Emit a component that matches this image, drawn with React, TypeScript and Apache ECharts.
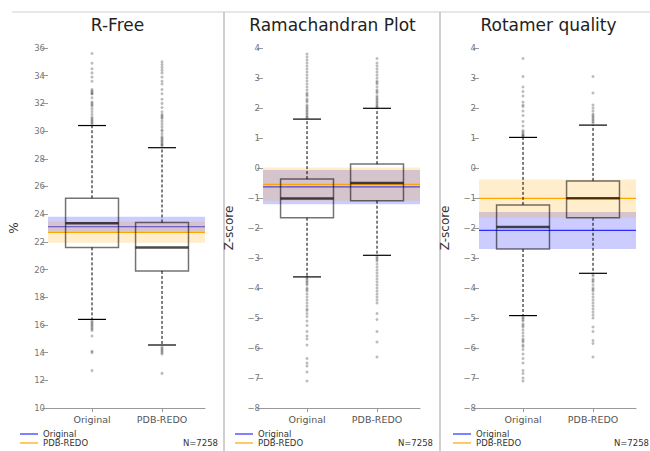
import React, { useEffect, useRef } from 'react';
import * as echarts from 'echarts';

const CATEGORIES = ['Original', 'PDB-REDO'];
const PANEL_TITLES = ['R-Free', 'Ramachandran Plot', 'Rotamer quality'];
const Y_NAMES = ['%', 'Z-score', 'Z-score'];
const SAMPLE_SIZE = 'N=7258';
const LEGEND_LABELS = ['Original', 'PDB-REDO'];

// y axis ranges: [min, max, interval]
const RFREE_RANGE = [10, 36, 2];
const ZSCORE_RANGE = [-8, 4, 1];

// box stats: [lowerWhisker, q1, median, q3, upperWhisker]
const RFREE_ORIGINAL_BOX = [16.4, 21.6, 23.35, 25.15, 30.4];
const RFREE_PDBREDO_BOX = [14.55, 19.9, 21.6, 23.4, 28.8];
const RAMA_ORIGINAL_BOX = [-3.63, -1.66, -1.02, -0.37, 1.63];
const RAMA_PDBREDO_BOX = [-2.91, -1.09, -0.5, 0.13, 1.99];
const ROTA_ORIGINAL_BOX = [-4.92, -2.7, -1.97, -1.23, 1.02];
const ROTA_PDBREDO_BOX = [-3.51, -1.66, -1.01, -0.43, 1.43];

// reference bands: [low, mean, high]
const RFREE_ORIGINAL_BAND = [22.73, 23.09, 23.82];
const RFREE_PDBREDO_BAND = [21.94, 22.69, 23.46];
const RAMA_ORIGINAL_BAND = [-1.21, -0.63, -0.07];
const RAMA_PDBREDO_BAND = [-1.09, -0.545, 0.02];
const ROTA_ORIGINAL_BAND = [-2.7, -2.08, -1.47];
const ROTA_PDBREDO_BAND = [-1.66, -1.01, -0.38];

// outliers
const RFREE_ORIGINAL_OUT = [35.6, 34.9, 34.5, 34.2, 33.9, 33.6, 33.0, 32.9, 32.8, 32.7, 32.7, 32.4, 32.1, 32.0, 31.9, 31.8, 31.6, 31.4, 31.2, 31.0, 30.9, 30.8, 30.7, 30.6, 30.5,
  16.3, 16.2, 16.1, 16.0, 15.9, 15.8, 15.7, 15.6, 15.2, 14.1, 14.0, 12.7];
const RFREE_PDBREDO_OUT = [35.0, 34.8, 34.6, 34.4, 34.2, 33.9, 33.6, 33.4, 33.0, 32.7, 32.3, 32.0, 31.7, 31.4, 31.2, 31.1, 31.0, 30.9, 30.7, 30.5, 30.3, 30.1, 30.0, 29.8, 29.6, 29.5, 29.4, 29.3, 29.2, 29.1, 29.0, 28.95,
  14.4, 14.3, 14.2, 14.1, 14.0, 13.9, 12.5];
const RAMA_ORIGINAL_OUT = [3.8, 3.7, 3.6, 3.5, 3.4, 3.3, 3.2, 3.1, 3.0, 2.9, 2.8, 2.7, 2.6, 2.5, 2.45, 2.4, 2.3, 2.25, 2.2, 2.1, 2.05, 2.0, 1.95, 1.9, 1.85, 1.8, 1.75, 1.7, 1.67,
  -3.65, -3.7, -3.75, -3.8, -3.85, -3.9, -4.0, -4.05, -4.1, -4.2, -4.3, -4.4, -4.5, -4.6, -4.7, -4.75, -4.85, -4.95, -5.1, -5.25, -5.45, -5.6, -5.7, -5.9, -6.35, -6.5, -6.6, -6.8, -7.1];
const RAMA_PDBREDO_OUT = [3.65, 3.5, 3.4, 3.3, 3.2, 3.1, 3.0, 2.9, 2.85, 2.8, 2.7, 2.6, 2.55, 2.5, 2.4, 2.35, 2.3, 2.25, 2.2, 2.15, 2.1, 2.05, 2.02,
  -2.95, -3.0, -3.05, -3.1, -3.2, -3.3, -3.4, -3.5, -3.6, -3.7, -3.8, -3.9, -4.0, -4.1, -4.2, -4.3, -4.4, -4.5, -4.85, -5.05, -5.45, -5.8, -6.3];
const ROTA_ORIGINAL_OUT = [3.65, 3.05, 2.7, 2.55, 2.4, 2.2, 2.1, 2.05, 1.9, 1.75, 1.55, 1.4, 1.25, 1.2, 1.15, 1.1, 1.08, 1.05,
  -4.95, -5.0, -5.05, -5.1, -5.2, -5.25, -5.3, -5.4, -5.5, -5.6, -5.7, -5.75, -5.8, -5.9, -5.95, -6.05, -6.2, -6.35, -6.5, -6.75, -6.85, -7.0, -7.1];
const ROTA_PDBREDO_OUT = [3.05, 2.5, 2.1, 2.0, 1.9, 1.8, 1.75, 1.7, 1.65, 1.6, 1.55, 1.5,
  -3.55, -3.6, -3.7, -3.75, -3.8, -3.9, -4.0, -4.05, -4.1, -4.2, -4.3, -4.4, -4.5, -4.6, -4.7, -4.8, -4.9, -5.0, -5.3, -5.45, -5.75, -5.85, -6.3];

const PANELS = [
  { range: RFREE_RANGE, boxes: [RFREE_ORIGINAL_BOX, RFREE_PDBREDO_BOX], bands: [RFREE_ORIGINAL_BAND, RFREE_PDBREDO_BAND], outs: [RFREE_ORIGINAL_OUT, RFREE_PDBREDO_OUT] },
  { range: ZSCORE_RANGE, boxes: [RAMA_ORIGINAL_BOX, RAMA_PDBREDO_BOX], bands: [RAMA_ORIGINAL_BAND, RAMA_PDBREDO_BAND], outs: [RAMA_ORIGINAL_OUT, RAMA_PDBREDO_OUT] },
  { range: ZSCORE_RANGE, boxes: [ROTA_ORIGINAL_BOX, ROTA_PDBREDO_BOX], bands: [ROTA_ORIGINAL_BAND, ROTA_PDBREDO_BAND], outs: [ROTA_ORIGINAL_OUT, ROTA_PDBREDO_OUT] },
];

const FONT = '"DejaVu Sans", Verdana, sans-serif';
const GRID_LEFTS = [48, 263, 479];
const PANEL_OFFSETS = [0, 215, 431];
const BLUE = 'rgb(45,45,255)';
const ORANGE = '#FFA500';
const BAND_FILLS = ['rgba(0,0,255,0.2)', 'rgba(255,165,0,0.2)'];
const BAND_LINES = [BLUE, ORANGE];

const fmtMinus = (v: number) => (v < 0 ? '\u2212' + Math.abs(v) : String(v));

function renderBox(params: any, api: any) {
  const c = api.value(0);
  const cx = api.coord([c, api.value(3)])[0];
  const yLo = api.coord([c, api.value(1)])[1];
  const yQ1 = api.coord([c, api.value(2)])[1];
  const yMed = api.coord([c, api.value(3)])[1];
  const yQ3 = api.coord([c, api.value(4)])[1];
  const yHi = api.coord([c, api.value(5)])[1];
  const unit = api.size([1, 0])[0];
  const bw = unit * 0.378;
  const cw = unit * 0.2;
  return {
    type: 'group',
    children: [
      { type: 'line', shape: { x1: cx, y1: yQ3, x2: cx, y2: yHi }, style: { stroke: '#000', lineWidth: 1, lineDash: [3, 2] } },
      { type: 'line', shape: { x1: cx, y1: yQ1, x2: cx, y2: yLo }, style: { stroke: '#000', lineWidth: 1, lineDash: [3, 2] } },
      { type: 'line', shape: { x1: cx - cw, y1: yHi, x2: cx + cw, y2: yHi }, style: { stroke: '#000', lineWidth: 1.2 } },
      { type: 'line', shape: { x1: cx - cw, y1: yLo, x2: cx + cw, y2: yLo }, style: { stroke: '#000', lineWidth: 1.2 } },
      { type: 'rect', shape: { x: cx - bw, y: yQ3, width: 2 * bw, height: yQ1 - yQ3 }, style: { fill: 'none', stroke: 'rgba(0,0,0,0.55)', lineWidth: 1.5 } },
      { type: 'line', shape: { x1: cx - bw, y1: yMed, x2: cx + bw, y2: yMed }, style: { stroke: 'rgba(0,0,0,0.7)', lineWidth: 2.5 } },
    ],
  };
}

const makeBand = (fill: string, stroke: string) => (params: any, api: any) => {
  const cs = params.coordSys;
  const yLow = api.coord([0, api.value(1)])[1];
  const yMean = api.coord([0, api.value(2)])[1];
  const yHigh = api.coord([0, api.value(3)])[1];
  return {
    type: 'group',
    children: [
      { type: 'rect', shape: { x: cs.x, y: yHigh, width: cs.width, height: yLow - yHigh }, style: { fill } },
      { type: 'line', shape: { x1: cs.x, y1: yMean, x2: cs.x + cs.width, y2: yMean }, style: { stroke, lineWidth: 1.2 } },
    ],
  };
};

export default function App() {
  const ref = useRef<HTMLDivElement>(null);
  useEffect(() => {
    if (!ref.current) return;
    const chart = echarts.init(ref.current, null, { renderer: 'svg' });

    const grid = GRID_LEFTS.map((l) => ({ left: l, width: 157, top: 48, height: 360 }));
    const xAxis = PANELS.map((_, i) => ({
      type: 'value',
      gridIndex: i,
      min: -0.629,
      max: 1.614,
      splitLine: { show: false },
      axisLine: { show: true, onZero: false, lineStyle: { color: '#999', width: 1 } },
      axisTick: { show: true, customValues: [0, 1], length: 4, lineStyle: { color: '#999' } },
      axisLabel: {
        customValues: [0, 1],
        formatter: (v: number) => CATEGORIES[Math.round(v)] ?? '',
        fontSize: 9.5,
        color: '#555',
        fontFamily: FONT,
        margin: 6,
      },
    }));
    const yAxis = PANELS.map((p, i) => ({
      type: 'value',
      gridIndex: i,
      min: p.range[0],
      max: p.range[1],
      interval: p.range[2],
      splitLine: { show: false },
      axisLine: { show: false, onZero: false },
      axisTick: { show: true, length: 6, lineStyle: { color: '#999' } },
      axisLabel: { fontSize: 8.5, color: '#777', fontFamily: FONT, margin: 3, formatter: fmtMinus },
      name: Y_NAMES[i],
      nameLocation: 'middle',
      nameGap: 28,
      nameTextStyle: { fontSize: 12, color: '#333', fontFamily: FONT },
    }));

    const series: any[] = [];
    PANELS.forEach((p, i) => {
      p.bands.forEach((b, k) => {
        series.push({
          type: 'custom',
          xAxisIndex: i,
          yAxisIndex: i,
          z: 1,
          renderItem: makeBand(BAND_FILLS[k], BAND_LINES[k]),
          encode: { x: 0, y: [1, 2, 3] },
          data: [[0, b[0], b[1], b[2]]],
          silent: true,
        });
      });
      series.push({
        type: 'scatter',
        xAxisIndex: i,
        yAxisIndex: i,
        z: 2,
        symbolSize: 3,
        itemStyle: { color: 'rgba(50,50,50,0.4)' },
        data: p.outs.flatMap((arr, k) => arr.map((v) => [k, v])),
        silent: true,
      });
      series.push({
        type: 'custom',
        xAxisIndex: i,
        yAxisIndex: i,
        z: 3,
        renderItem: renderBox,
        encode: { x: 0, y: [1, 2, 3, 4, 5] },
        data: p.boxes.map((b, k) => [k, ...b]),
        silent: true,
      });
    });

    const graphic: any[] = [
      { type: 'line', shape: { x1: 12, y1: 12, x2: 650, y2: 12 }, style: { stroke: '#d0d0d0', lineWidth: 1 } },
      { type: 'line', shape: { x1: 224, y1: 12, x2: 224, y2: 451 }, style: { stroke: '#cfcfcf', lineWidth: 2 } },
      { type: 'line', shape: { x1: 440, y1: 12, x2: 440, y2: 451 }, style: { stroke: '#cfcfcf', lineWidth: 2 } },
    ];
    PANEL_OFFSETS.forEach((o, i) => {
      graphic.push({
        type: 'text', x: o + 117.5, y: 25,
        style: { text: PANEL_TITLES[i], fontSize: 17, fill: '#222', fontFamily: FONT, align: 'center', verticalAlign: 'middle' },
      });
      const lx = o + (i === 2 ? 22 : 20);
      graphic.push({ type: 'line', shape: { x1: lx, y1: 434, x2: lx + 18, y2: 434 }, style: { stroke: BLUE, lineWidth: 1.2 } });
      graphic.push({ type: 'line', shape: { x1: lx, y1: 443, x2: lx + 18, y2: 443 }, style: { stroke: ORANGE, lineWidth: 1.2 } });
      graphic.push({ type: 'text', x: lx + 23, y: 434, style: { text: LEGEND_LABELS[0], fontSize: 8.5, fill: '#333', fontFamily: FONT, verticalAlign: 'middle' } });
      graphic.push({ type: 'text', x: lx + 23, y: 443, style: { text: LEGEND_LABELS[1], fontSize: 8.5, fill: '#333', fontFamily: FONT, verticalAlign: 'middle' } });
      graphic.push({ type: 'text', x: o + 218, y: 443, style: { text: SAMPLE_SIZE, fontSize: 8.5, fill: '#333', fontFamily: FONT, align: 'right', verticalAlign: 'middle' } });
    });

    chart.setOption({
      animation: false,
      backgroundColor: '#fff',
      grid,
      xAxis,
      yAxis,
      series,
      graphic,
    });
    return () => chart.dispose();
  }, []);
  return <div ref={ref} style={{ position: 'fixed', left: 0, top: 0, width: 650, height: 451 }} />;
}
